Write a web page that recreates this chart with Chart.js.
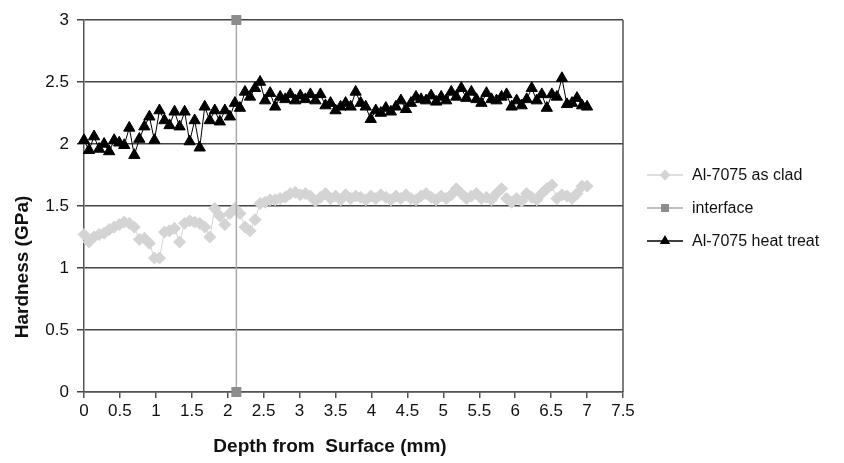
<!DOCTYPE html>
<html>
<head>
<meta charset="utf-8">
<script src="https://cdn.jsdelivr.net/npm/chart.js@4/dist/chart.umd.min.js"></script>
<style>
  html, body { margin: 0; padding: 0; background: #fff; }
  #wrap { width: 844px; height: 463px; }
</style>
</head>
<body>
<div id="wrap"><canvas id="hardnessChart"></canvas></div>
<script>
// depth (mm) of each indent, shared by both Al-7075 series
const depth = [
  0.00, 0.07, 0.14, 0.21, 0.28, 0.35, 0.42, 0.49, 0.56, 0.63,
  0.70, 0.77, 0.84, 0.91, 0.98, 1.05, 1.12, 1.19, 1.26, 1.33,
  1.40, 1.47, 1.54, 1.61, 1.68, 1.75, 1.82, 1.89, 1.96, 2.03,
  2.10, 2.17, 2.24, 2.31, 2.38, 2.45, 2.52, 2.59, 2.66, 2.73,
  2.80, 2.87, 2.94, 3.01, 3.08, 3.15, 3.22, 3.29, 3.36, 3.43,
  3.50, 3.57, 3.64, 3.71, 3.78, 3.85, 3.92, 3.99, 4.06, 4.13,
  4.20, 4.27, 4.34, 4.41, 4.48, 4.55, 4.62, 4.69, 4.76, 4.83,
  4.90, 4.97, 5.04, 5.11, 5.18, 5.25, 5.32, 5.39, 5.46, 5.53,
  5.60, 5.67, 5.74, 5.81, 5.88, 5.95, 6.02, 6.09, 6.16, 6.23,
  6.30, 6.37, 6.44, 6.51, 6.58, 6.65, 6.72, 6.79, 6.86, 6.93,
  7.00
];

const asClad = [
  1.27, 1.21, 1.25, 1.27, 1.28, 1.31, 1.33, 1.35, 1.37, 1.36,
  1.33, 1.23, 1.24, 1.20, 1.08, 1.08, 1.29, 1.30, 1.32, 1.21,
  1.36, 1.38, 1.37, 1.36, 1.33, 1.25, 1.48, 1.42, 1.35, 1.44,
  1.48, 1.44, 1.33, 1.30, 1.39, 1.52, 1.53, 1.55, 1.55, 1.56,
  1.57, 1.60, 1.61, 1.59, 1.60, 1.58, 1.54, 1.57, 1.60, 1.56,
  1.58, 1.55, 1.59, 1.56, 1.58, 1.57, 1.55, 1.58, 1.56, 1.59,
  1.57, 1.55, 1.58, 1.56, 1.59, 1.56, 1.55, 1.58, 1.60, 1.57,
  1.55, 1.58, 1.56, 1.59, 1.64, 1.60, 1.56, 1.58, 1.60, 1.56,
  1.57, 1.55, 1.60, 1.64, 1.56, 1.53, 1.56, 1.54, 1.60, 1.57,
  1.55, 1.60, 1.64, 1.67, 1.56, 1.59, 1.58, 1.56, 1.60, 1.66,
  1.66
];

const heatTreat = [
  2.03, 1.95, 2.06, 1.96, 2.00, 1.94, 2.03, 2.01, 1.99, 2.13,
  1.91, 2.04, 2.14, 2.22, 2.03, 2.27, 2.19, 2.15, 2.26, 2.14,
  2.26, 2.02, 2.19, 1.97, 2.30, 2.19, 2.27, 2.18, 2.27, 2.22,
  2.33, 2.29, 2.42, 2.38, 2.45, 2.50, 2.35, 2.41, 2.30, 2.38,
  2.36, 2.40, 2.35, 2.39, 2.36, 2.40, 2.35, 2.40, 2.31, 2.33,
  2.27, 2.30, 2.33, 2.30, 2.42, 2.33, 2.30, 2.20, 2.27, 2.25,
  2.29, 2.26, 2.30, 2.35, 2.28, 2.33, 2.38, 2.36, 2.35, 2.39,
  2.34, 2.38, 2.35, 2.42, 2.38, 2.45, 2.37, 2.42, 2.36, 2.33,
  2.41, 2.36, 2.35, 2.38, 2.40, 2.30, 2.35, 2.31, 2.36, 2.45,
  2.35, 2.40, 2.29, 2.40, 2.38, 2.53, 2.32, 2.33, 2.37, 2.31,
  2.30
];

// clad / substrate interface marker
const interfaceDepth = [2.12, 2.12];
const interfaceHardness = [0, 3];

const seriesNames = ['Al-7075 as clad', 'interface', 'Al-7075 heat treat'];
const xTitle = 'Depth from  Surface (mm)';
const yTitle = 'Hardness (GPa)';

const FONT = "'Liberation Sans', Arial, sans-serif";

function toPoints(xs, ys) {
  return xs.map((x, i) => ({ x: x, y: ys[i] }));
}

// plain number labels (3, 2.5, 2 ... not 3.0)
function plainTick(value) {
  return String(Math.round(value * 10) / 10);
}

// right-hand border of the plot frame
const frameRight = {
  id: 'frameRight',
  beforeDatasetsDraw(chart) {
    const { ctx, chartArea } = chart;
    ctx.save();
    ctx.strokeStyle = '#555';
    ctx.lineWidth = 1.5;
    ctx.beginPath();
    ctx.moveTo(chartArea.right, chartArea.top);
    ctx.lineTo(chartArea.right, chartArea.bottom);
    ctx.stroke();
    ctx.restore();
  }
};

// axis titles sit a little off-centre in the original, so place them by hand
const axisTitles = {
  id: 'axisTitles',
  afterDraw(chart) {
    const ctx = chart.ctx;
    const area = chart.chartArea;
    ctx.save();
    ctx.font = 'bold 19px ' + FONT;
    ctx.fillStyle = '#111';
    ctx.textAlign = 'center';
    ctx.textBaseline = 'middle';
    ctx.fillText(xTitle, area.left + 246, 447);
    ctx.translate(23, area.top + 247);
    ctx.rotate(-Math.PI / 2);
    ctx.fillText(yTitle, 0, 0);
    ctx.restore();
  }
};

// Excel-style legend: short line with the marker on it
const sideLegend = {
  id: 'sideLegend',
  afterDraw(chart) {
    const ctx = chart.ctx;
    const x0 = chart.chartArea.right + 24;
    ctx.save();
    ctx.font = '16px ' + FONT;
    ctx.textBaseline = 'middle';
    chart.data.datasets.forEach((ds, i) => {
      const y = 175 + i * 33;
      ctx.strokeStyle = ds.borderColor;
      ctx.lineWidth = 1.5;
      ctx.beginPath();
      ctx.moveTo(x0, y);
      ctx.lineTo(x0 + 36, y);
      ctx.stroke();
      ctx.fillStyle = ds.pointBackgroundColor;
      ctx.strokeStyle = ds.pointBorderColor;
      Chart.helpers.drawPoint(ctx, {
        pointStyle: ds.pointStyle, radius: 4.5, rotation: 0, borderWidth: 1
      }, x0 + 18, y);
      ctx.fillStyle = '#111';
      ctx.fillText(ds.label, x0 + 45, y + 1);
    });
    ctx.restore();
  }
};

const ctx = document.getElementById('hardnessChart').getContext('2d');

new Chart(ctx, {
  type: 'scatter',
  data: {
    datasets: [
      {
        label: seriesNames[0],
        data: toPoints(depth, asClad),
        showLine: true,
        clip: false,
        borderColor: '#d4d4d4',
        borderWidth: 1,
        pointStyle: 'rectRot',
        pointRadius: 6,
        pointBackgroundColor: '#d4d4d4',
        pointBorderColor: '#d4d4d4',
        order: 3
      },
      {
        label: seriesNames[1],
        data: toPoints(interfaceDepth, interfaceHardness),
        showLine: true,
        clip: false,
        borderColor: '#aaa',
        borderWidth: 1.5,
        pointStyle: 'rect',
        pointRadius: 6,
        pointBackgroundColor: '#8c8c8c',
        pointBorderColor: '#8c8c8c',
        order: 2
      },
      {
        label: seriesNames[2],
        data: toPoints(depth, heatTreat),
        showLine: true,
        clip: false,
        borderColor: '#000',
        borderWidth: 1,
        pointStyle: 'triangle',
        pointRadius: 6.5,
        pointBackgroundColor: '#000',
        pointBorderColor: '#000',
        order: 1
      }
    ]
  },
  options: {
    responsive: true,
    maintainAspectRatio: false,
    animation: false,
    layout: { padding: { left: 12, right: 221, top: 20, bottom: 4 } },
    plugins: {
      legend: { display: false },
      tooltip: { enabled: false }
    },
    scales: {
      x: {
        type: 'linear',
        min: 0,
        max: 7.5,
        ticks: {
          stepSize: 0.5,
          autoSkip: false,
          maxRotation: 0,
          padding: 3,
          color: '#111',
          font: { family: FONT, size: 17 },
          callback: plainTick
        },
        grid: { drawOnChartArea: false, drawTicks: true, tickLength: 6, color: '#555', lineWidth: 1.5 },
        border: { color: '#555', width: 1.5 },
        title: { display: false },
        afterFit(scale) { scale.height = 67; }
      },
      y: {
        min: 0,
        max: 3,
        ticks: {
          stepSize: 0.5,
          padding: 8,
          color: '#111',
          font: { family: FONT, size: 17 },
          callback: plainTick
        },
        grid: { color: '#444', lineWidth: 1.5, drawTicks: true, tickLength: 7 },
        border: { color: '#555', width: 1.5 },
        title: { display: false },
        afterFit(scale) { scale.width = 72; }
      }
    }
  },
  plugins: [frameRight, axisTitles, sideLegend]
});
</script>
</body>
</html>
